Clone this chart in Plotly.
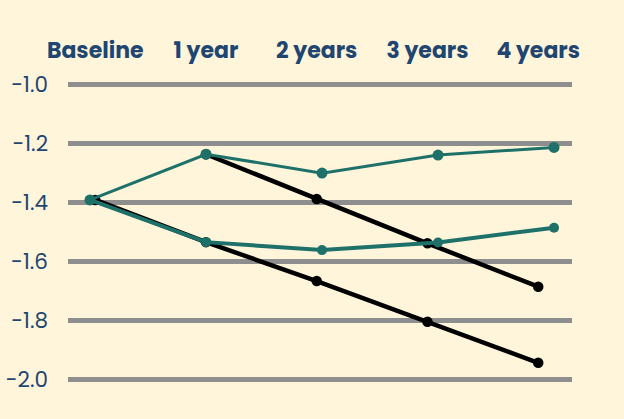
import plotly.graph_objects as go

# ---- data ----
categories = ["Baseline", "1 year", "2 years", "3 years", "4 years"]
teal_upper = [-1.393, -1.238, -1.302, -1.241, -1.215]
teal_lower = [-1.393, -1.536, -1.563, -1.537, -1.487]
black_upper = [None, -1.238, -1.390, -1.540, -1.687]
black_lower = [-1.393, -1.536, -1.668, -1.806, -1.945]
y_tickvals = [-1.0, -1.2, -1.4, -1.6, -1.8, -2.0]
y_ticktext = ["-1.0", "-1.2", "-1.4", "-1.6", "-1.8", "-2.0"]

BG = "#FFF5DB"
TEAL = "#1E7169"
BLACK = "#000000"
GRID = "#8E8E8E"
TXT = "#1F4670"
FONT = "Poppins, Open Sans, Lato, sans-serif"

fig = go.Figure()

# black lines on base x axis
fig.add_trace(go.Scatter(x=categories, y=black_lower, mode="lines+markers",
                         line=dict(color=BLACK, width=4.5), marker=dict(size=10.5, color=BLACK),
                         xaxis="x", yaxis="y", showlegend=False, hoverinfo="skip"))
fig.add_trace(go.Scatter(x=categories, y=black_upper, mode="lines+markers",
                         line=dict(color=BLACK, width=4.5), marker=dict(size=10.5, color=BLACK),
                         xaxis="x", yaxis="y", showlegend=False, hoverinfo="skip"))
# teal lines on overlaying x axis
fig.add_trace(go.Scatter(x=categories, y=teal_lower, mode="lines+markers",
                         line=dict(color=TEAL, width=4), marker=dict(size=10, color=TEAL),
                         xaxis="x2", yaxis="y", showlegend=False, hoverinfo="skip"))
fig.add_trace(go.Scatter(x=categories, y=teal_upper, mode="lines+markers",
                         line=dict(color=TEAL, width=3), marker=dict(size=11, color=TEAL),
                         xaxis="x2", yaxis="y", showlegend=False, hoverinfo="skip"))

fig.update_layout(
    width=624, height=419,
    margin=dict(l=68, r=52, t=70, b=19, autoexpand=False),
    paper_bgcolor=BG, plot_bgcolor=BG,
    xaxis=dict(type="category", categoryarray=categories, range=[-0.246, 4.305],
               side="top", showgrid=False, zeroline=False, showline=False,
               ticks="", ticklabelstandoff=7, automargin=False,
               tickfont=dict(family=FONT, size=22, color=TXT, weight="bold")),
    xaxis2=dict(type="category", categoryarray=categories, range=[-0.1897, 4.155],
                overlaying="x", showgrid=False, zeroline=False, showline=False,
                showticklabels=False, ticks="", automargin=False),
    yaxis=dict(range=[-2.0711, -0.9525], tickvals=y_tickvals, ticktext=y_ticktext,
               showgrid=True, gridcolor=GRID, gridwidth=5, zeroline=False, showline=False,
               ticks="", ticklabelstandoff=19, automargin=False,
               tickfont=dict(family=FONT, size=21.5, color=TXT)),
)

fig.write_html(
    "out.html",
    config={"displayModeBar": False},
    post_script=f"document.body.style.margin='0';document.body.style.background='{BG}';",
)
